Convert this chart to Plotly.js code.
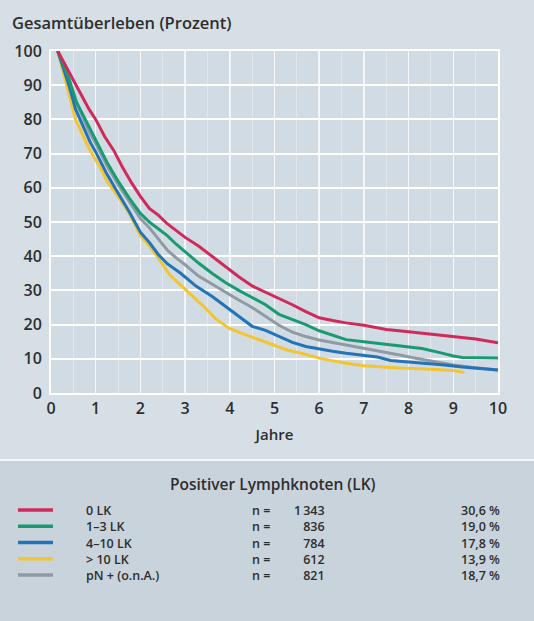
<!DOCTYPE html>
<html>
<head>
<meta charset="utf-8">
<script src="https://cdn.plot.ly/plotly-3.0.1.min.js"></script>
<style>
  html, body { margin: 0; padding: 0; background: #d6dfe6; }
  #chart { width: 534px; height: 621px; }
</style>
</head>
<body>
<div id="chart"></div>
<script>
// ---- Data ----
const seriesNames = ["0 LK", "1\u20133 LK", "4\u201310 LK", "> 10 LK", "pN + (o.n.A.)"];
const seriesN = ["1\u2009343", "836", "784", "612", "821"];
const seriesPct = ["30,6 %", "19,0 %", "17,8 %", "13,9 %", "18,7 %"];

const lk0X = [0.15, 0.4, 0.65, 0.85, 1.0, 1.2, 1.4, 1.6, 1.8, 2.0, 2.2, 2.4, 2.6, 2.8, 3.0, 3.3, 3.6, 3.9, 4.2, 4.5, 4.8, 5.1, 5.4, 5.7, 6.0, 6.3, 6.6, 7.0, 7.5, 8.0, 8.5, 9.0, 9.5, 10.0];
const lk0Y = [100, 94, 88, 83, 80, 75, 71, 66, 61.5, 57.5, 54, 52, 49.5, 47.5, 45.5, 43, 40, 37, 34, 31.3, 29.5, 27.5, 25.8, 23.8, 22, 21.2, 20.5, 19.8, 18.6, 17.9, 17.2, 16.5, 15.8, 14.7];

const lk13X = [0.15, 0.4, 0.57, 0.87, 1.0, 1.25, 1.5, 1.75, 2.0, 2.2, 2.4, 2.6, 2.8, 3.0, 3.3, 3.6, 3.9, 4.2, 4.5, 4.8, 5.1, 5.4, 5.7, 6.0, 6.3, 6.6, 7.0, 7.5, 8.0, 8.3, 8.7, 9.0, 9.2, 9.6, 10.0];
const lk13Y = [100, 92, 85, 77, 74, 67.5, 62, 57, 52.5, 50, 48, 46, 43.5, 41.2, 38, 35, 32.3, 30, 28, 25.8, 23, 21.5, 20, 18.2, 16.8, 15.6, 15.0, 14.2, 13.5, 13, 11.8, 10.8, 10.4, 10.4, 10.2];

const lk410X = [0.15, 0.4, 0.55, 0.87, 1.0, 1.25, 1.5, 1.75, 2.0, 2.2, 2.4, 2.6, 2.9, 3.25, 3.6, 4.0, 4.3, 4.5, 4.8, 5.1, 5.4, 5.7, 6.0, 6.3, 6.6, 7.0, 7.3, 7.6, 8.0, 8.3, 8.8, 9.2, 9.5, 10.0];
const lk410Y = [100, 90, 83, 73.5, 70.5, 64, 58.5, 53, 47, 44, 40.5, 37.8, 35, 31.2, 28.3, 24.5, 21.5, 19.5, 18.3, 16.5, 14.8, 13.6, 12.8, 12.2, 11.6, 11.0, 10.5, 9.5, 9.1, 8.9, 8.2, 7.6, 7.2, 6.7];

const lk10X = [0.15, 0.39, 0.55, 0.87, 1.1, 1.25, 1.5, 1.75, 2.0, 2.2, 2.4, 2.66, 3.0, 3.4, 3.7, 4.0, 4.3, 4.6, 5.0, 5.3, 5.6, 6.0, 6.3, 6.6, 7.0, 7.4, 7.8, 8.4, 9.0, 9.25];
const lk10Y = [100, 88, 80, 71, 66, 62, 57.5, 52.5, 46, 43, 39.5, 34.5, 30.5, 25.5, 21.5, 18.8, 17.3, 15.8, 14.0, 12.5, 11.6, 10.2, 9.4, 8.7, 8.0, 7.6, 7.3, 7.0, 6.6, 6.0];

const pnX = [0.15, 0.4, 0.6, 0.87, 1.0, 1.25, 1.5, 1.75, 2.0, 2.2, 2.4, 2.6, 2.8, 3.0, 3.3, 3.6, 3.9, 4.2, 4.5, 4.8, 5.1, 5.4, 5.7, 6.0, 6.3, 6.6, 7.0, 7.3, 7.8, 8.1, 8.4, 8.7, 9.0, 9.4, 9.7, 10.0];
const pnY = [100, 91, 84, 76, 73, 66.5, 61, 56, 51, 48.3, 45, 41.8, 39.5, 37.5, 34.2, 31.8, 29.5, 27.2, 25, 22.5, 19.8, 17.8, 16.5, 15.5, 14.8, 14.0, 13.0, 12.4, 11.1, 10.3, 9.6, 8.8, 8.2, 7.5, 7.0, 6.7];

const xTicks = [0, 1, 2, 3, 4, 5, 6, 7, 8, 9, 10];
const yTicks = [0, 10, 20, 30, 40, 50, 60, 70, 80, 90, 100];

// ---- Styling ----
const colors = ["#cf2a5b", "#1a9a72", "#2373b8", "#f2c531", "#8f9ba4"];
const FONT = "'Open Sans', 'Noto Sans', sans-serif";
const TXT = "#2e2e2e";

// plot area in pixels
const PL = 51, PR = 498, PT = 51, PB = 393;
const W = 534, H = 621;
const px2x = px => (px - PL) / (PR - PL);
const py2y = py => (PB - py) / (PB - PT);

const traces = [
  {x: pnX, y: pnY, color: colors[4]},
  {x: lk10X, y: lk10Y, color: colors[3]},
  {x: lk410X, y: lk410Y, color: colors[2]},
  {x: lk13X, y: lk13Y, color: colors[1]},
  {x: lk0X, y: lk0Y, color: colors[0]}
].map(s => ({
  type: 'scatter', mode: 'lines', x: s.x, y: s.y,
  line: {color: s.color, width: 3, shape: 'linear'},
  hoverinfo: 'skip', showlegend: false
}));

// custom legend: one multi-line text block per column
const LFS = 12.5;               // legend font size
const LSTEP = LFS * 1.3;        // plotly line spacing
const ROW0 = 510;
const rowY = seriesNames.map((_, i) => ROW0 + i * LSTEP);
const midY = ROW0 + 2 * LSTEP;

const shapes = [
  {type: 'rect', xref: 'paper', yref: 'paper', x0: px2x(-5), x1: px2x(W + 5), y0: py2y(H + 5), y1: py2y(460), fillcolor: '#c9d3db', line: {width: 0}, layer: 'below'},
  {type: 'line', xref: 'paper', yref: 'paper', x0: px2x(-5), x1: px2x(W + 5), y0: py2y(460), y1: py2y(460), line: {color: '#f4f7fa', width: 2}}
];
rowY.forEach((ry, i) => shapes.push({type: 'line', xref: 'paper', yref: 'paper', x0: px2x(18), x1: px2x(53), y0: py2y(ry), y1: py2y(ry), line: {color: colors[i], width: 3.5}}));

const lf = {family: FONT, size: LFS, color: TXT, weight: 600};
const annotations = [
  {xref: 'paper', yref: 'paper', x: px2x(273), y: py2y(484), text: "Positiver Lymphknoten (LK)", showarrow: false, xanchor: 'center', yanchor: 'middle', font: {family: FONT, size: 15.5, color: TXT, weight: 600}},
  {xref: 'paper', yref: 'paper', x: px2x(85), y: py2y(midY), text: seriesNames.join('<br>'), showarrow: false, xanchor: 'left', yanchor: 'middle', align: 'left', font: lf, borderpad: 0},
  {xref: 'paper', yref: 'paper', x: px2x(251), y: py2y(midY), text: seriesNames.map(() => 'n =').join('<br>'), showarrow: false, xanchor: 'left', yanchor: 'middle', align: 'left', font: lf, borderpad: 0},
  {xref: 'paper', yref: 'paper', x: px2x(326), y: py2y(midY), text: seriesN.join('<br>'), showarrow: false, xanchor: 'right', yanchor: 'middle', align: 'right', font: lf, borderpad: 0},
  {xref: 'paper', yref: 'paper', x: px2x(501), y: py2y(midY), text: seriesPct.join('<br>'), showarrow: false, xanchor: 'right', yanchor: 'middle', align: 'right', font: lf, borderpad: 0}
];

const layout = {
  width: W, height: H,
  margin: {l: PL, r: W - PR, t: PT, b: H - PB, pad: 0},
  paper_bgcolor: '#d6dfe6',
  plot_bgcolor: '#d1dbe3',
  font: {family: FONT, color: TXT, size: 15},
  title: {text: "Gesamt\u00fcberleben (Prozent)", xref: 'container', yref: 'container', x: 12 / W, xanchor: 'left', y: 1 - 23 / H, yanchor: 'middle', font: {family: FONT, size: 16.5, color: TXT, weight: 600}},
  xaxis: {
    range: [0, 10], tickvals: xTicks, ticktext: xTicks.map(String),
    showgrid: true, gridcolor: 'rgba(255,255,255,0.7)', gridwidth: 1.5,
    minor: {dtick: 0.5, showgrid: true, gridcolor: 'rgba(255,255,255,0.35)', gridwidth: 1},
    zeroline: false, showline: true, linecolor: '#ffffff', linewidth: 2, mirror: true,
    ticks: '', tickfont: {family: FONT, size: 16, color: TXT, weight: 600},
    title: {text: "Jahre", standoff: 11, font: {family: FONT, size: 15, color: TXT, weight: 600}},
    fixedrange: true
  },
  yaxis: {
    range: [0, 100], tickvals: yTicks, ticktext: yTicks.map(String),
    showgrid: true, gridcolor: '#ffffff', gridwidth: 2,
    zeroline: false, showline: true, linecolor: '#ffffff', linewidth: 2, mirror: true,
    ticks: '', ticklabelstandoff: 4, tickfont: {family: FONT, size: 16, color: TXT, weight: 600},
    fixedrange: true
  },
  shapes: shapes,
  annotations: annotations,
  showlegend: false
};

Plotly.newPlot('chart', traces, layout, {displayModeBar: false, staticPlot: true});
</script>
</body>
</html>
